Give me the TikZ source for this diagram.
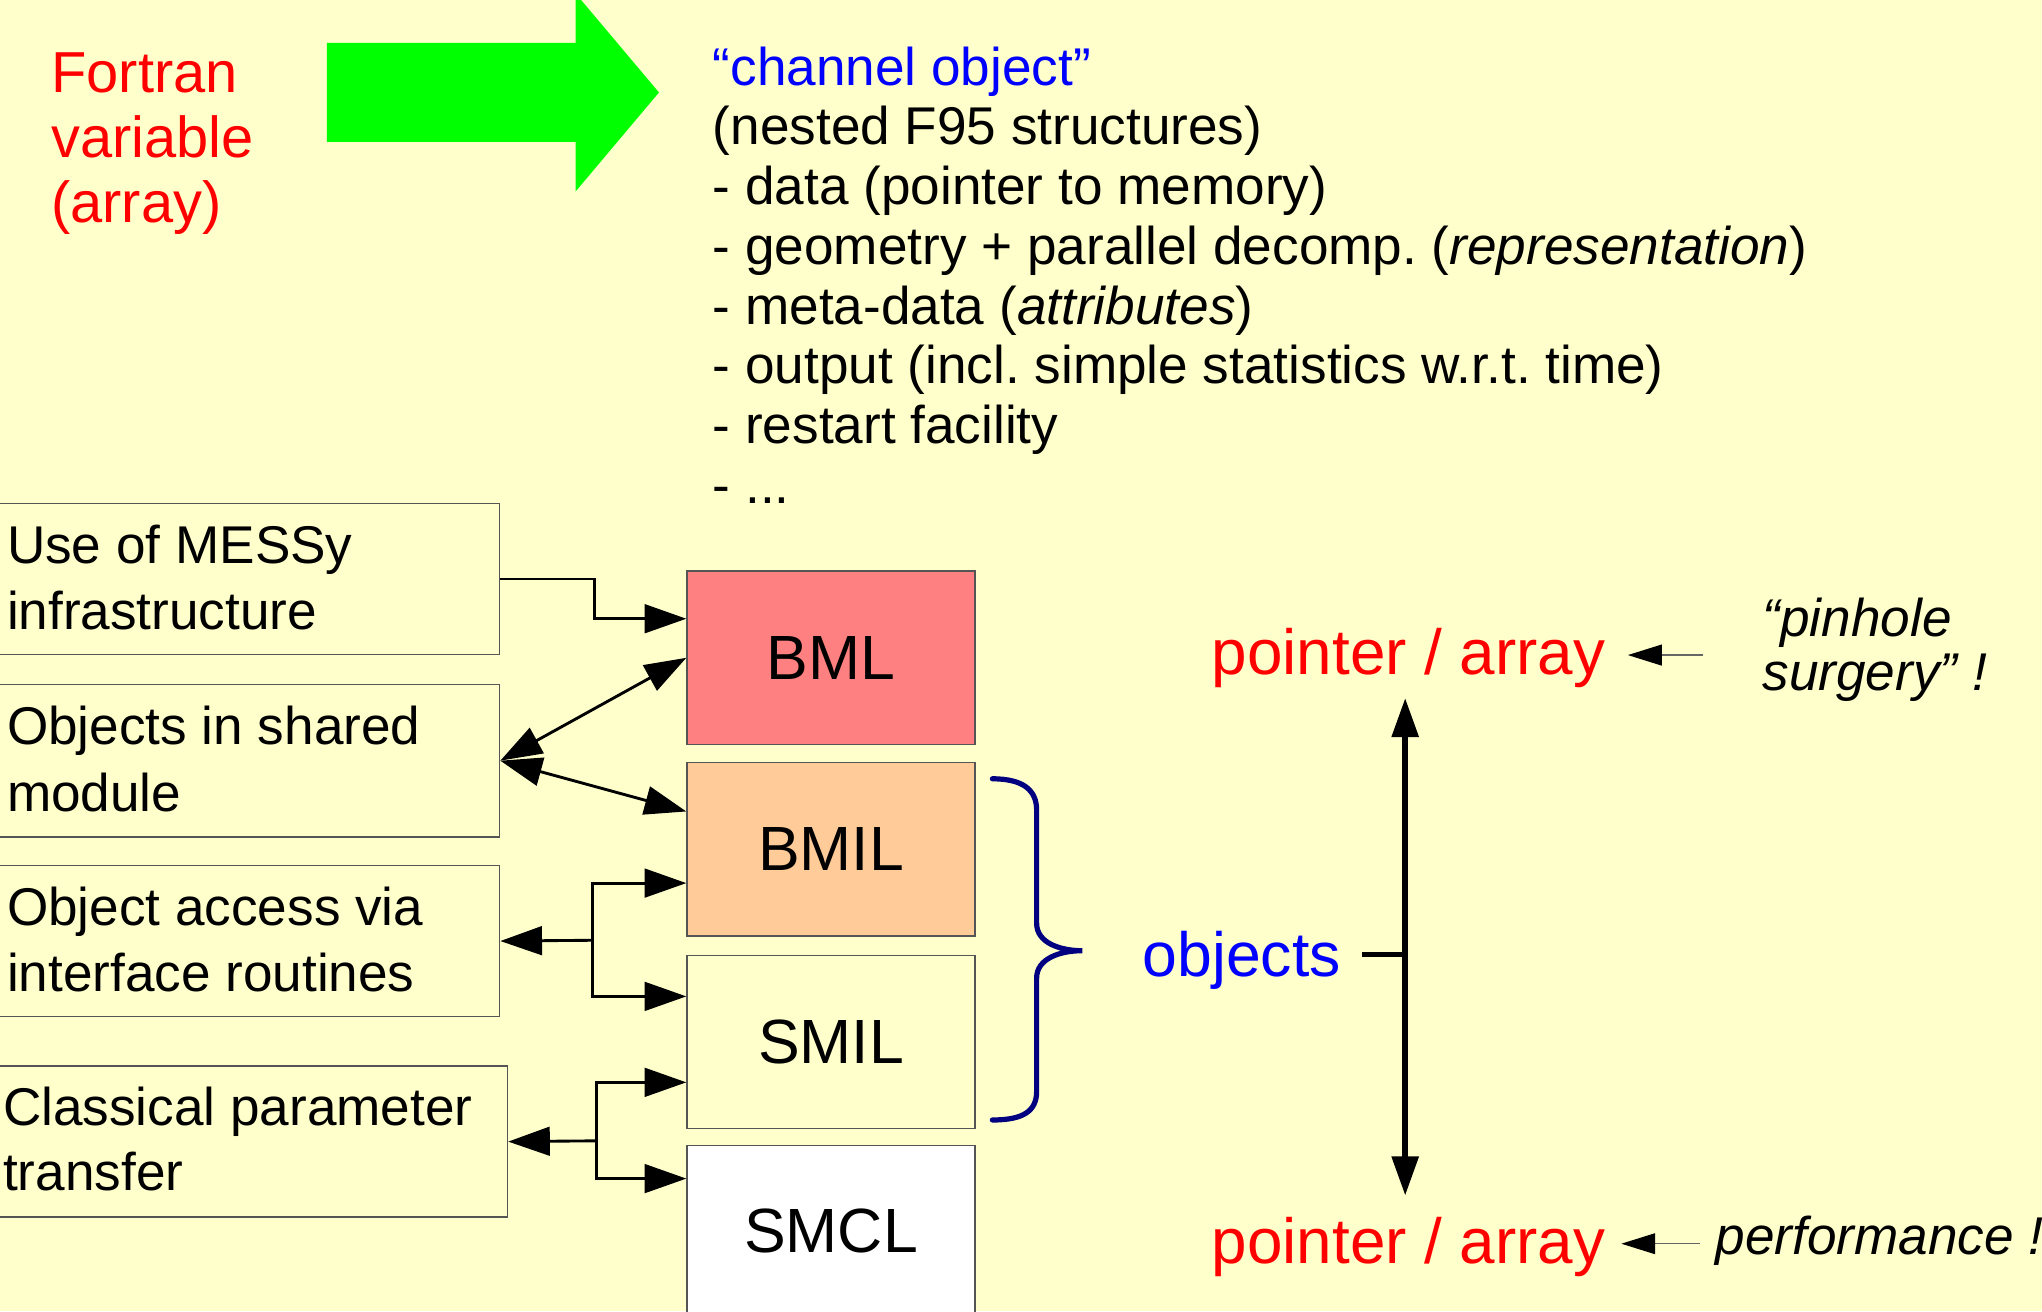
\documentclass[tikz,border=0pt]{standalone}
\usepackage{fontspec}
\setmainfont{Liberation Sans}
\usetikzlibrary{arrows.meta,calc}
\frenchspacing

\definecolor{bgyellow}{HTML}{FFFFCC}
\definecolor{bmlred}{HTML}{FF8080}
\definecolor{bmilorange}{HTML}{FFCC99}
\definecolor{bracenavy}{HTML}{000080}
\definecolor{arrowgreen}{HTML}{00FF00}
\definecolor{framegray}{HTML}{555555}

\begin{document}
\begin{tikzpicture}[x=0.5pt,y=-0.5pt,
  txt/.style={inner sep=0pt, anchor=base west},
  redfont/.style={font=\fontsize{22.2}{25}\selectfont, text=red},
  listfont/.style={font=\fontsize{20.4}{23}\selectfont},
  boxfont/.style={font=\fontsize{20.4}{24.7}\selectfont},
  layerfont/.style={font=\fontsize{24}{28}\selectfont},
  ptrfont/.style={font=\fontsize{24.5}{28}\selectfont, text=red},
  notefont/.style={font=\fontsize{20.4}{24}\selectfont\itshape},
  lbox/.style={draw=framegray, line width=0.6pt, fill=bgyellow, anchor=north west,
    inner sep=0pt, minimum width=194pt, minimum height=58pt},
  layer/.style={draw=framegray, line width=0.6pt, anchor=north west, inner sep=0pt,
    minimum width=110.5pt, minimum height=66.5pt, layerfont},
  conn/.style={line width=1.1pt, -{Triangle[length=16pt,width=11pt]}},
  conntwo/.style={line width=1.1pt, {Triangle[length=16pt,width=11pt]}-{Triangle[length=16pt,width=11pt]}},
  bigarrow/.style={line width=2.2pt, {Triangle[length=15pt,width=10pt]}-{Triangle[length=15pt,width=10pt]}},
  notearrow/.style={line width=0.5pt, draw=black!60, -{Triangle[length=13pt,width=8pt,color=black]}}
]
% page and background
\useasboundingbox (0,0) rectangle (1568,1007);
\fill[bgyellow] (0,0) rectangle (1568,1007);

% Fortran variable turned into a channel object
\node[txt, redfont] (fv1) at (39,71) {Fortran};
\node[txt, redfont] (fv2) at (39,121) {variable};
\node[txt, redfont] (fv3) at (39,171) {(array)};
\fill[arrowgreen] (251,33) -- (442,33) -- (442,-5) -- (506,71) -- (442,147) -- (442,109) -- (251,109) -- cycle;

% channel object description
\node[txt, listfont, text=blue] (co1) at (547,65.3) {“channel object”};
\node[txt, listfont] (co2) at (547,111.2) {(nested F95 structures)};
\node[txt, listfont] (co3) at (547,157.1) {- data (pointer to memory)};
\node[txt, listfont] (co4) at (547,203) {- geometry + parallel decomp. (\textit{representation})};
\node[txt, listfont] (co5) at (547,248.9) {- meta-data (\textit{attributes})};
\node[txt, listfont] (co6) at (547,294.8) {- output (incl. simple statistics w.r.t. time)};
\node[txt, listfont] (co7) at (547,340.7) {- restart facility};
\node[txt, listfont] (co8) at (547,386.6) {- ...};

% access methods
\node[lbox] (b1) at (-5,386) {};
\node[txt, boxfont] (b1a) at (5,433) {Use of MESSy};
\node[txt, boxfont] (b1b) at (5,483) {infrastructure};
\node[lbox, minimum height=58.5pt] (b2) at (-5,525) {};
\node[txt, boxfont] (b2a) at (5,572) {Objects in shared};
\node[txt, boxfont] (b2b) at (5,623) {module};
\node[lbox] (b3) at (-5,664) {};
\node[txt, boxfont] (b3a) at (5,711) {Object access via};
\node[txt, boxfont] (b3b) at (5,761) {interface routines};
\node[lbox, minimum width=197pt] (b4) at (-5,818) {};
\node[txt, boxfont] (b4a) at (2,864) {Classical parameter};
\node[txt, boxfont] (b4b) at (2,914) {transfer};

% MESSy layers
\node[layer, fill=bmlred] (bml) at (527,438) {BML};
\node[layer, fill=bmilorange] (bmil) at (527,585) {BMIL};
\node[layer, fill=bgyellow] (smil) at (527,733) {SMIL};
\node[layer, fill=white, minimum height=66pt] (smcl) at (527,879) {SMCL};

% connections between methods and layers
\draw[conn] (b1.east) -- ++(72,0) |- ($(bml.west)+(0,-30)$);
\draw[conntwo] (b2.east) -- (bml.west);
\draw[conntwo] (b2.east) -- ($(bmil.west)+(0,-29)$);
\coordinate (j3) at (455,722);
\draw[conn] (j3) -- (b3.east);
\draw[conn] (j3) |- ($(bmil.west)+(0,26)$);
\draw[conn] (j3) |- ($(smil.west)+(0,-35)$);
\coordinate (j4) at (458,876);
\draw[conn] (j4) -- (b4.east);
\draw[conn] (j4) |- ($(smil.west)+(0,31)$);
\draw[conn] (j4) |- ($(smcl.north west)+(0,26)$);

% brace grouping BMIL and SMIL
\draw[bracenavy, line width=2pt, line cap=round]
  (762,598) .. controls (786,598) and (796,607) .. (796,622)
  -- (796,709) .. controls (796,724) and (814,730) .. (831,730)
  .. controls (814,730) and (796,736) .. (796,751)
  -- (796,838) .. controls (796,853) and (786,860) .. (762,860);
\node[txt, layerfont, text=blue] (obj) at (877,750) {objects};

% pointer / array range
\node[txt, ptrfont] (ptop) at (930,518) {pointer / array};
\node[txt, ptrfont] (pbot) at (930,970) {pointer / array};
\coordinate (vtop) at (1079,536);
\coordinate (vbot) at (1079,918);
\coordinate (vmid) at (1079,733);
\coordinate (tick) at (1046,733);
\draw[bigarrow] (vtop) -- (vbot);
\draw[line width=2.2pt] (tick) -- (vmid);

% annotations
\node[txt, notefont] (ph1) at (1353,489) {“pinhole};
\node[txt, notefont] (ph2) at (1353,530) {surgery” !};
\node[txt, notefont] (perf) at (1317,963) {performance !};
\coordinate (phs) at (1308,503);
\coordinate (pht) at (1250,503);
\coordinate (pfs) at (1305,955);
\coordinate (pft) at (1245,955);
\draw[notearrow] (phs) -- (pht);
\draw[notearrow] (pfs) -- (pft);
\end{tikzpicture}
\end{document}
